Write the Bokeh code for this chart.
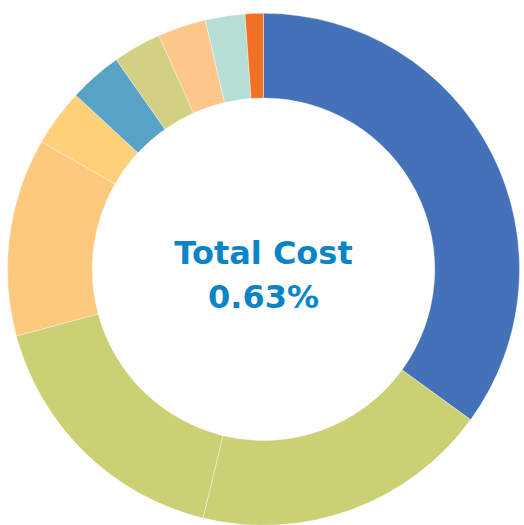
import numpy as np
from bokeh.plotting import figure
from bokeh.models import ColumnDataSource, Range1d
from bokeh.core.properties import value
from bokeh.embed import file_html
from bokeh.resources import INLINE

categories = ["A", "B", "C", "D", "E", "F", "G", "H", "I", "J"]
shares = [35.0, 18.8, 17.0, 12.5, 3.6, 3.35, 3.05, 3.05, 2.5, 1.15]
colors = ["#4472B8", "#CBD074", "#CBD074", "#FDC97F", "#FED07A",
          "#58A2C6", "#D1D083", "#FDC68A", "#B4DED6", "#F07025"]
title_lines = ["Total Cost", "0.63%"]

W, H = 524, 525
cx, cy = 263, H - 268.75

vals = np.array(shares, dtype=float)
frac = vals / vals.sum()
cum_end = np.cumsum(frac)
cum_start = cum_end - frac
start = np.pi / 2 - 2 * np.pi * cum_start
end = np.pi / 2 - 2 * np.pi * cum_end

src = ColumnDataSource(dict(cat=categories, start=start, end=end, color=colors,
                            x=[cx] * len(categories), y=[cy] * len(categories)))

p = figure(width=W, height=H, x_range=Range1d(0, W), y_range=Range1d(0, H),
           output_backend="svg", toolbar_location=None, min_border=0)
p.axis.visible = False
p.grid.visible = False
p.outline_line_color = None
p.background_fill_color = "white"
p.border_fill_color = "white"

p.annular_wedge(x="x", y="y", inner_radius=171.25, outer_radius=256,
                start_angle="start", end_angle="end", direction="clock",
                fill_color="color", line_color="white", line_width=0.35, source=src)

p.text(x=[cx, cx], y=[H - 252, H - 296.5], text=title_lines,
       text_font=value("DejaVu Sans"), text_font_style="bold", text_font_size="32px",
       text_color="#0A84C6", text_align="center", text_baseline="middle")

open("out.html", "w").write(file_html(p, INLINE))
